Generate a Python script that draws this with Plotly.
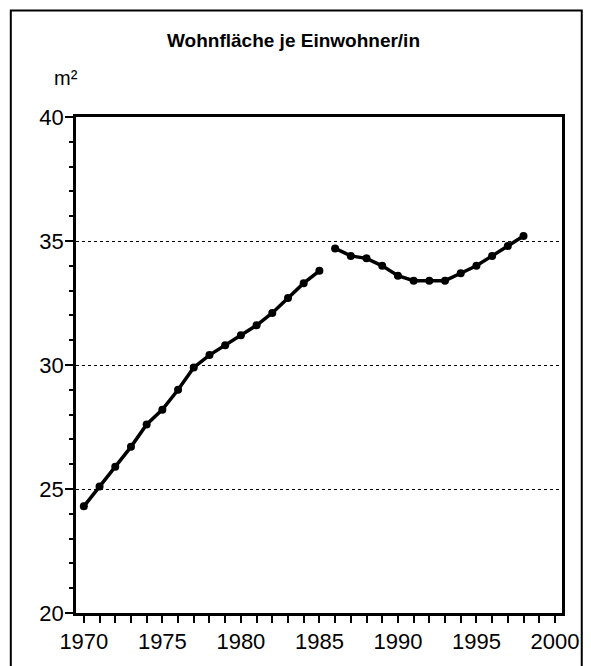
import plotly.graph_objects as go

years_a = [1970, 1971, 1972, 1973, 1974, 1975, 1976, 1977, 1978, 1979, 1980, 1981, 1982, 1983, 1984, 1985]
area_a = [24.3, 25.1, 25.9, 26.7, 27.6, 28.2, 29.0, 29.9, 30.4, 30.8, 31.2, 31.6, 32.1, 32.7, 33.3, 33.8]
years_b = [1986, 1987, 1988, 1989, 1990, 1991, 1992, 1993, 1994, 1995, 1996, 1997, 1998]
area_b = [34.7, 34.4, 34.3, 34.0, 33.6, 33.4, 33.4, 33.4, 33.7, 34.0, 34.4, 34.8, 35.2]
y_ticks = [20, 25, 30, 35, 40]
x_ticks = [1970, 1975, 1980, 1985, 1990, 1995, 2000]

FONT = "Liberation Sans Narrow, Arial Narrow, Liberation Sans, Arial, sans-serif"

fig = go.Figure()
for xs, ys in [(years_a, area_a), (years_b, area_b)]:
    fig.add_trace(go.Scatter(
        x=xs, y=ys, mode="lines+markers",
        line=dict(color="black", width=3.5),
        marker=dict(color="black", size=8),
        showlegend=False, hoverinfo="x+y",
    ))

W, H = 591, 666
L, T = 76, 117
RIGHT, BOTTOM = 568, 615
R, B = W - RIGHT, H - BOTTOM
pw, ph = RIGHT - L, BOTTOM - T

def px_x(p):
    return (p - L) / pw

def px_y(p):
    return (BOTTOM - p) / ph

fig.update_layout(
    width=W, height=H,
    margin=dict(l=L, r=R, t=T, b=B),
    paper_bgcolor="white", plot_bgcolor="white",
    font=dict(family=FONT, color="black", size=21),
    xaxis=dict(
        range=[1969.5, 2000.45], tickvals=x_ticks, ticktext=[str(v) for v in x_ticks],
        ticks="outside", ticklen=7, tickwidth=2, tickcolor="black",
        minor=dict(dtick=1, tick0=1970, ticks="outside", ticklen=7, tickwidth=2, tickcolor="black"),
        showline=True, linecolor="black", linewidth=2.5, mirror=True,
        showgrid=False, zeroline=False,
        tickfont=dict(family=FONT, size=22, color="black"),
    ),
    yaxis=dict(
        range=[20, 40], tickvals=y_ticks, ticktext=[str(v) for v in y_ticks],
        ticks="outside", ticklen=8, tickwidth=2, tickcolor="black",
        ticklabelstandoff=-3,
        minor=dict(dtick=1, tick0=20, ticks="outside", ticklen=4, tickwidth=2, tickcolor="black", showgrid=False),
        showline=True, linecolor="black", linewidth=2.5, mirror=True,
        showgrid=True, gridcolor="black", gridwidth=1, griddash="dot",
        zeroline=False,
        tickfont=dict(family=FONT, size=22, color="black"),
    ),
    shapes=[dict(
        type="rect", xref="paper", yref="paper",
        x0=px_x(10), x1=px_x(588), y0=px_y(672), y1=px_y(10),
        line=dict(color="black", width=2), fillcolor="rgba(0,0,0,0)", layer="below",
    )],
    annotations=[
        dict(text="<b>Wohnfläche je Einwohner/in</b>", xref="paper", yref="paper",
             x=px_x(296), y=px_y(40), xanchor="center", yanchor="middle", showarrow=False,
             font=dict(family=FONT, size=19, color="black")),
        dict(text="m²", xref="paper", yref="paper",
             x=px_x(66), y=px_y(78), xanchor="center", yanchor="middle", showarrow=False,
             font=dict(family=FONT, size=20, color="black")),
    ],
)

fig.write_html(
    "out.html",
    config={"displayModeBar": False},
    post_script="document.body.style.margin='0px';document.body.style.overflow='hidden';",
)
